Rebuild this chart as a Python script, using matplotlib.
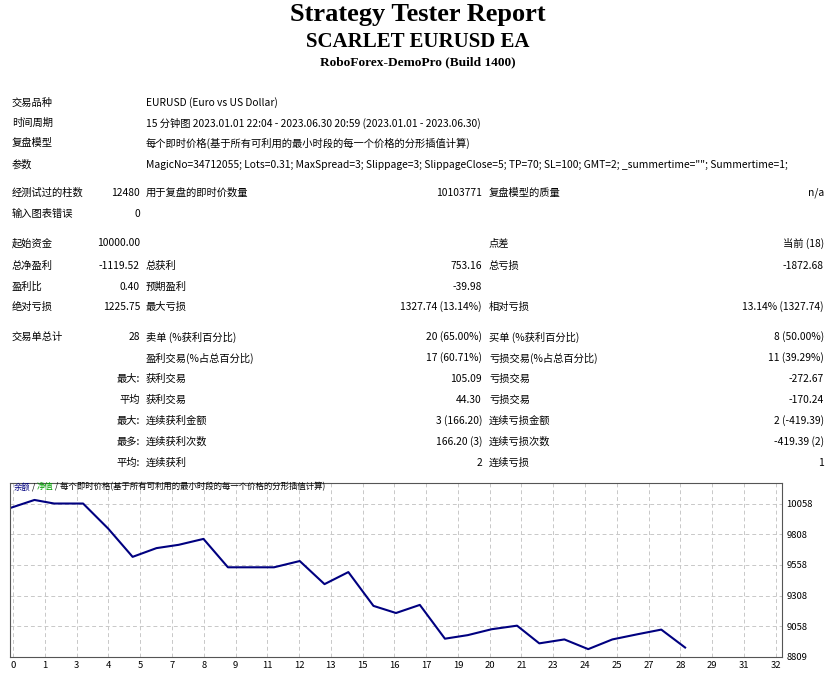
import matplotlib
matplotlib.use("Agg")
import matplotlib.pyplot as plt

plt.rcParams["font.family"] = ["Noto Sans CJK SC", "DejaVu Sans"]

W, H = 830, 678

# report rows: (label, value) pairs per column
top_rows = [
    ("交易品种", "EURUSD (Euro vs US Dollar)"),
    ("时间周期", "15 分钟图 2023.01.01 22:04 - 2023.06.30 20:59 (2023.01.01 - 2023.06.30)"),
    ("复盘模型", "每个即时价格(基于所有可利用的最小时段的每一个价格的分形插值计算)"),
    ("参数", 'MagicNo=34712055; Lots=0.31; MaxSpread=3; Slippage=3; SlippageClose=5; TP=70; SL=100; GMT=2; _summertime=""; Summertime=1;'),
]
top_y = [103, 123, 143, 165]

# each row: (y, left label, left value, mid label, mid value, right label, right value)
stat_rows = [
    (193, "经测试过的柱数", "12480", "用于复盘的即时价数量", "10103771", "复盘模型的质量", "n/a"),
    (214, "输入图表错误", "0", "", "", "", ""),
    (243, "起始资金", "10000.00", "", "", "点差", "当前 (18)"),
    (266, "总净盈利", "-1119.52", "总获利", "753.16", "总亏损", "-1872.68"),
    (287, "盈利比", "0.40", "预期盈利", "-39.98", "", ""),
    (307, "绝对亏损", "1225.75", "最大亏损", "1327.74 (13.14%)", "相对亏损", "13.14% (1327.74)"),
    (337, "交易单总计", "28", "卖单 (%获利百分比)", "20 (65.00%)", "买单 (%获利百分比)", "8 (50.00%)"),
    (358, "", "", "盈利交易(%占总百分比)", "17 (60.71%)", "亏损交易(%占总百分比)", "11 (39.29%)"),
    (379, "", "最大:", "获利交易", "105.09", "亏损交易", "-272.67"),
    (400, "", "平均", "获利交易", "44.30", "亏损交易", "-170.24"),
    (421, "", "最大:", "连续获利金额", "3 (166.20)", "连续亏损金额", "2 (-419.39)"),
    (442, "", "最多:", "连续获利次数", "166.20 (3)", "连续亏损次数", "-419.39 (2)"),
    (463, "", "平均:", "连续获利", "2", "连续亏损", "1"),
]

# balance curve, x in tick-slot units, y in account currency
bal_x = [-0.1, 0.67, 1.29, 2.2, 2.99, 3.76, 4.51, 5.21, 5.99, 6.76, 8.21, 9.02, 9.8,
         10.55, 11.34, 12.05, 12.8, 13.59, 14.31, 15.06, 15.86, 16.56, 17.35, 18.1,
         18.86, 19.65, 20.4, 21.15]
bal_y = [10021, 10087, 10058, 10058, 9854, 9624, 9695, 9722, 9770, 9539, 9539, 9590,
         9402, 9500, 9225, 9167, 9233, 8958, 8987, 9035, 9064, 8920, 8952, 8873,
         8952, 8994, 9032, 8886]
x_labels = ["0", "1", "3", "4", "5", "7", "8", "9", "11", "12", "13", "15", "16", "17",
            "19", "20", "21", "23", "24", "25", "27", "28", "29", "31", "32"]
y_ticks = [8809, 9058, 9308, 9558, 9808, 10058]

fig = plt.figure(figsize=(W / 100, H / 100), dpi=100)


def put(x, y, s, **kw):
    kw.setdefault("fontsize", 7.4)
    kw.setdefault("va", "center")
    fig.text(x / W, 1 - y / H, s, **kw)


serif = ["Liberation Serif", "DejaVu Serif"]
put(418, 15, "Strategy Tester Report", fontsize=19, ha="center", weight="bold", family=serif)
put(418, 42, "SCARLET EURUSD EA", fontsize=15, ha="center", weight="bold", family=serif)
put(418, 62, "RoboForex-DemoPro (Build 1400)", fontsize=9.6, ha="center", weight="bold", family=serif)

for y, (lab, val) in zip(top_y, top_rows):
    put(12, y, lab)
    put(146, y, val)

for y, l1, v1, l2, v2, l3, v3 in stat_rows:
    put(12, y, l1)
    put(140, y, v1, ha="right")
    put(146, y, l2)
    put(482, y, v2, ha="right")
    put(489, y, l3)
    put(824, y, v3, ha="right")

ax = fig.add_axes([10 / W, 1 - 657 / H, (782 - 10) / W, (657 - 483) / H])
ax.plot(bal_x, bal_y, color="#000080", lw=1.5)
ax.set_xlim(-0.1, 24.2)
ax.set_ylim(8809, 10225)
ax.set_xticks(range(len(x_labels)))
ax.set_xticklabels(x_labels)
ax.set_yticks(y_ticks)
ax.yaxis.tick_right()
ax.tick_params(labelsize=6.8, length=0, pad=3)
ax.grid(True, color="#c8c8c8", ls=(0, (4, 3)), lw=0.7)
for s in ax.spines.values():
    s.set_color("#555555")
    s.set_linewidth(0.8)

put(14, 487, "余额", fontsize=6, color="#000080")
put(32, 487, "/", fontsize=6)
put(37, 487, "净值", fontsize=6, color="#00a000")
put(55, 487, "/ 每个即时价格(基于所有可利用的最小时段的每一个价格的分形插值计算)", fontsize=6)

fig.savefig("out.png", dpi=100)
